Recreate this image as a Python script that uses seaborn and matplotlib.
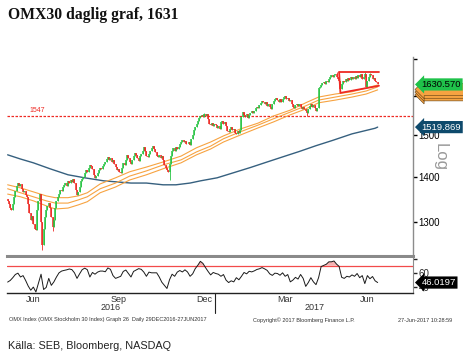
import numpy as np
import pandas as pd
import matplotlib
matplotlib.use("Agg")
import matplotlib.pyplot as plt
import matplotlib.transforms as mtransforms
from matplotlib.ticker import NullLocator, FixedLocator, FixedFormatter
import seaborn as sns

# ---------------- data ----------------
start_date = "2016-05-19"
end_date = "2017-06-27"
first_open = 1350

close_may16 = [1345, 1338, 1330, 1325, 1340, 1355, 1368, 1380, 1385]
close_jun16 = [1380, 1383, 1372, 1365, 1368, 1360, 1355, 1340, 1320, 1305, 1312,
               1295, 1285, 1282, 1325, 1345, 1362, 1300, 1252, 1285, 1310, 1325]
close_jul16 = [1335, 1342, 1330, 1310, 1290, 1305, 1330, 1345, 1355, 1362, 1370,
               1368, 1378, 1382, 1385, 1380, 1390, 1386, 1392, 1388, 1395]
close_aug16 = [1385, 1370, 1360, 1365, 1378, 1390, 1395, 1400, 1408, 1415, 1412,
               1420, 1428, 1425, 1418, 1405, 1398, 1402, 1410, 1415, 1420, 1418, 1425]
close_sep16 = [1430, 1436, 1442, 1446, 1440, 1444, 1436, 1440, 1430, 1422, 1415,
               1418, 1412, 1410, 1420, 1432, 1428, 1440, 1452, 1445, 1436, 1430]
close_oct16 = [1440, 1450, 1457, 1452, 1445, 1438, 1448, 1455, 1462, 1470, 1460,
               1450, 1446, 1455, 1462, 1468, 1474, 1466, 1458, 1450, 1447]
close_nov16 = [1452, 1445, 1448, 1440, 1428, 1420, 1415, 1411, 1430, 1450, 1462,
               1468, 1462, 1470, 1465, 1472, 1478, 1484, 1488, 1482, 1486, 1478]
close_dec16 = [1478, 1484, 1476, 1490, 1500, 1512, 1520, 1528, 1536, 1543, 1548,
               1551, 1546, 1552, 1548, 1553, 1540, 1528, 1525, 1530, 1522, 1527]
close_jan17 = [1525, 1518, 1522, 1515, 1532, 1536, 1528, 1532, 1522, 1510, 1508,
               1516, 1520, 1512, 1515, 1506, 1503, 1510, 1505, 1512, 1545, 1558]
close_feb17 = [1550, 1545, 1552, 1544, 1550, 1556, 1561, 1555, 1562, 1568, 1572,
               1568, 1576, 1582, 1587, 1584, 1578, 1585, 1574, 1580]
close_mar17 = [1570, 1566, 1578, 1586, 1592, 1595, 1590, 1584, 1592, 1585, 1593,
               1598, 1600, 1592, 1594, 1586, 1588, 1578, 1570, 1568, 1575, 1580, 1574]
close_apr17 = [1580, 1572, 1565, 1572, 1566, 1560, 1556, 1565, 1574, 1578, 1570,
               1575, 1568, 1560, 1568, 1620, 1625, 1630, 1634, 1638]
close_may17 = [1632, 1640, 1636, 1645, 1652, 1656, 1650, 1655, 1658, 1652, 1645,
               1640, 1618, 1632, 1640, 1636, 1645, 1640, 1648, 1642, 1650, 1645, 1652]
close_jun17 = [1646, 1654, 1648, 1656, 1650, 1658, 1645, 1652, 1660, 1624, 1640,
               1650, 1658, 1655, 1645, 1648, 1640, 1636, 1630.57]

low_wick_dates = ["2016-06-27", "2016-07-07", "2016-11-11", "2017-04-11", "2017-05-17"]
low_wick_values = [1241, 1280, 1393, 1548, 1608]
high_wick_dates = ["2016-12-20", "2017-05-12", "2017-06-13", "2017-06-19"]
high_wick_values = [1556, 1663, 1664, 1662]

ma200_dates = ["2016-05-19", "2016-06-02", "2016-06-16", "2016-07-05", "2016-07-25",
               "2016-08-11", "2016-09-01", "2016-09-30", "2016-10-18", "2016-11-04",
               "2016-11-18", "2016-12-05", "2016-12-15", "2017-01-03", "2017-01-19",
               "2017-02-08", "2017-02-24", "2017-03-15", "2017-04-03", "2017-04-20",
               "2017-05-09", "2017-05-30", "2017-06-23", "2017-06-27"]
ma200_values = [1452, 1442, 1433, 1419, 1405, 1398, 1391, 1386, 1386, 1382,
                1382, 1386, 1391, 1398, 1409, 1422, 1434, 1447, 1460, 1474,
                1487, 1503, 1517, 1519.869]

band_dates = ["2016-05-19", "2016-06-02", "2016-06-16", "2016-06-30", "2016-07-11",
              "2016-07-25", "2016-08-04", "2016-08-15", "2016-08-29", "2016-09-14",
              "2016-09-29", "2016-10-18", "2016-11-04", "2016-11-24", "2016-12-12",
              "2016-12-27", "2017-01-10", "2017-01-27", "2017-02-16", "2017-03-06",
              "2017-03-23", "2017-04-10", "2017-04-24", "2017-05-11", "2017-05-30",
              "2017-06-14", "2017-06-27"]
band_top = [1382, 1375, 1366, 1357, 1353, 1353, 1357, 1364, 1384, 1398, 1412, 1423, 1435,
            1449, 1469, 1483, 1498, 1515, 1530, 1548, 1563, 1582, 1597, 1605, 1611, 1621, 1629]
band_mid = [1373, 1364, 1355, 1346, 1341, 1341, 1348, 1355, 1373, 1386, 1402, 1414, 1428,
            1440, 1459, 1473, 1491, 1508, 1525, 1541, 1558, 1574, 1589, 1597, 1605, 1613, 1624]
band_bot = [1361, 1355, 1346, 1335, 1328, 1330, 1337, 1344, 1364, 1377, 1393, 1405, 1419,
            1433, 1452, 1466, 1483, 1500, 1518, 1533, 1551, 1566, 1582, 1589, 1597, 1605, 1616]

level_value = 1547
level_label = "1547"

tri_dates = ["2017-05-16", "2017-06-28", "2017-05-17", "2017-06-28"]
tri_top = 1663
tri_bottom = [1608, 1627]

# RSI, one reading every second trading day
rsi_values = [46.7, 49, 53, 57.6, 59.5, 54, 56, 49, 41, 35,
              39.5, 32.5, 45, 58, 36, 39, 52, 42, 47, 54,
              60, 62.5, 63.5, 64.3, 65.5, 64.6, 60, 52, 58.5, 64.5,
              66.7, 64.5, 54, 60.5, 58, 61, 62.5, 62.5, 61.5, 67,
              65, 56, 52, 53.5, 55, 62, 64, 59, 54, 62,
              64, 66, 65, 61, 55, 61, 60, 60, 60, 54,
              46.5, 42, 37.5, 50, 58, 55, 61, 63.3, 61.2, 64.3,
              61.2, 55, 58.5, 66, 70.8, 76.5, 73.5, 67.5, 62, 57,
              60.5, 59, 58, 55, 57.5, 49.5, 46, 48.5, 47, 53,
              50, 55, 60.5, 58.5, 62.2, 61.3, 62.8, 64.8, 65.8, 67.5,
              65.7, 63.5, 58.5, 56.3, 59.5, 59, 56.5, 60, 55, 57.5,
              47, 49.5, 53.5, 51, 57.6, 52, 40.5, 46, 53, 47,
              43, 53, 69, 70.6, 72.3, 75.8, 75.8, 77, 72.5, 69.2,
              53.5, 52, 55, 54, 57, 55, 59, 53, 56, 44.5,
              56, 51.5, 54.7, 48.5, 46.02]
rsi_level = 70

last_price = "1630.570"
last_ma200 = "1519.869"
last_rsi = "46.0197"

price_ticks = [1300, 1400, 1500, 1600, 1700]
price_labels = ["1300", "1400", "1500", "1600", ""]
rsi_ticks = [40, 60, 80]
rsi_labels = ["40", "60", ""]
month_label_dates = ["2016-06-16", "2016-09-16", "2016-12-20", "2017-03-17", "2017-06-15"]
month_labels = ["Jun", "Sep", "Dec", "Mar", "Jun"]
years = ["2016", "2017"]

title = "OMX30 daglig graf, 1631"
footer_left = "OMX Index (OMX Stockholm 30 Index) Graph 26  Daily 29DEC2016-27JUN2017"
footer_mid = "Copyright\u00a9 2017 Bloomberg Finance L.P."
footer_right = "27-Jun-2017 10:28:59"
source = "Källa: SEB, Bloomberg, NASDAQ"

# ---------------- style ----------------
sns.set_style("white")
plt.rcParams["font.family"] = ["Liberation Sans", "DejaVu Sans"]

GREEN = "#27c443"
RED = "#ee2a24"
ORANGE = "#f7a341"
NAVY = "#36607f"

def pos(d):
    return np.busday_count(start_date, np.array(d, dtype="datetime64[D]"))

close = np.array(close_may16 + close_jun16 + close_jul16 + close_aug16 + close_sep16 +
                 close_oct16 + close_nov16 + close_dec16 + close_jan17 + close_feb17 +
                 close_mar17 + close_apr17 + close_may17 + close_jun17, dtype=float)
dates = pd.bdate_range(start_date, end_date)
n = min(len(close), len(dates))
close = close[:n]
x = np.arange(n)
opens = np.concatenate([[first_open], close[:-1]])
up = close >= opens
body_lo = np.minimum(opens, close)
body_hi = np.maximum(opens, close)
lows = body_lo.copy()
highs = body_hi.copy()
for d, v in zip(low_wick_dates, low_wick_values):
    i = int(pos(d))
    if i < n:
        lows[i] = min(lows[i], v)
for d, v in zip(high_wick_dates, high_wick_values):
    i = int(pos(d))
    if i < n:
        highs[i] = max(highs[i], v)
colors = np.where(up, GREEN, RED)

W, H = 464, 357
fig = plt.figure(figsize=(W / 100, H / 100), dpi=100)
fig.patch.set_facecolor("white")

ax = fig.add_axes([7 / W, 1 - 256 / H, 406 / W, 199 / H])
ax2 = fig.add_axes([7 / W, 1 - 293 / H, 406 / W, 35.5 / H])
xlim = (-0.5, 315.5)

# main panel
ax.set_yscale("log")
ax.axhline(level_value, color=RED, lw=0.9, ls=(0, (2, 1.2)), zorder=1)
ax.text(17, level_value * 1.004, level_label, color=RED, fontsize=5, va="bottom")

sns.lineplot(x=pos(ma200_dates), y=ma200_values, ax=ax, color=NAVY, lw=1.0,
             legend=False, zorder=2)
for arr in (band_top, band_mid, band_bot):
    sns.lineplot(x=pos(band_dates), y=arr, ax=ax, color=ORANGE, lw=0.8,
                 legend=False, zorder=2)

ax.vlines(x, lows, highs, colors=colors, lw=0.6, zorder=3)
ax.vlines(x, body_lo, body_hi, colors=colors, lw=1.1, zorder=3)

tx = pos(tri_dates)
ax.plot([tx[0], tx[1]], [tri_top, tri_top], color=RED, lw=1.3, zorder=4)
ax.plot([tx[0], tx[2], tx[3]], [tri_top, tri_bottom[0], tri_bottom[1]],
        color=RED, lw=1.3, zorder=4)

ax.set_xlim(*xlim)
ax.set_ylim(1229, 1706)
ax.yaxis.tick_right()
ax.yaxis.set_major_locator(FixedLocator(price_ticks))
ax.yaxis.set_major_formatter(FixedFormatter(price_labels))
ax.yaxis.set_minor_locator(NullLocator())
ax.tick_params(axis="y", which="major", direction="out", length=3, width=1,
               labelsize=7, pad=1, colors="black")
ax.set_xticks([])
ax.set_xlabel("")
ax.set_ylabel("")
for s in ("left", "top"):
    ax.spines[s].set_visible(False)
ax.spines["right"].set_color("#8c8c8c")
ax.spines["right"].set_linewidth(1)
ax.spines["bottom"].set_color("#8a8a8a")
ax.spines["bottom"].set_linewidth(2.2)

def tag(axis, yv, txt, fc, tc, z, xoff=1.021, ec="none"):
    tr = mtransforms.blended_transform_factory(axis.transAxes, axis.transData)
    axis.text(xoff, yv, txt, transform=tr, ha="left", va="center", fontsize=6.8,
              color=tc, zorder=z, clip_on=False,
              bbox=dict(boxstyle="larrow,pad=0.17", fc=fc, ec=ec, lw=0.4))

# stacked orange marker tags for the three bands, mostly hidden under the price tag
blank = "\u2007" * 8
for k, yv in enumerate([1603, 1610, 1617]):
    tag(ax, yv, blank, ORANGE, ORANGE, 5 + k, ec="#5a3a10")
tag(ax, float(last_price), last_price, "#1fc24a", "black", 10)
tag(ax, float(last_ma200), last_ma200, "#0e4a6c", "white", 10)

# RSI panel
xr = x[::2][:len(rsi_values)]
rsi = np.array(rsi_values[:len(xr)])
ax2.axhline(rsi_level, color="#f24a4a", lw=0.9, zorder=1)
ax2.fill_between(xr, rsi_level, rsi, where=rsi > rsi_level, interpolate=True,
                 color="#f6b4b4", lw=0, zorder=1)
sns.lineplot(x=xr, y=rsi, ax=ax2, color="#1a1a1a", lw=0.7, legend=False, zorder=2)
ax2.set_xlim(*xlim)
ax2.set_ylim(31, 82)
ax2.yaxis.tick_right()
ax2.yaxis.set_major_locator(FixedLocator(rsi_ticks))
ax2.yaxis.set_major_formatter(FixedFormatter(rsi_labels))
ax2.tick_params(axis="y", direction="out", length=3, width=1, labelsize=7, pad=1)
tag(ax2, float(last_rsi), last_rsi, "black", "white", 10)

month_starts = pd.date_range("2016-06-01", "2017-08-01", freq="MS")
ax2.xaxis.set_major_locator(FixedLocator(pos(month_starts.strftime("%Y-%m-%d").tolist()) - 0.5))
ax2.xaxis.set_major_formatter(FixedFormatter([""] * len(month_starts)))
ax2.xaxis.set_minor_locator(FixedLocator(pos(month_label_dates)))
ax2.xaxis.set_minor_formatter(FixedFormatter(month_labels))
ax2.tick_params(axis="x", which="major", direction="out", length=3, width=0.8, colors="black")
ax2.tick_params(axis="x", which="minor", length=0, labelsize=6.5, pad=1.2, labelcolor="#333333")
ax2.set_xlabel("")
ax2.set_ylabel("")
for s in ("left", "top"):
    ax2.spines[s].set_visible(False)
ax2.spines["right"].set_color("#8c8c8c")
ax2.spines["bottom"].set_color("#222222")
ax2.spines["bottom"].set_linewidth(1)

yb = pos("2017-01-01") - 0.5
trb = mtransforms.blended_transform_factory(ax2.transData, ax2.transAxes)
ax2.plot([yb, yb], [0, -0.57], transform=trb, color="#222222", lw=0.8, clip_on=False)
ax2.text((xlim[0] + yb) / 2, -0.42, years[0], transform=trb, ha="center", va="center",
         fontsize=6.5, color="#333333")
ax2.text((yb + xlim[1]) / 2, -0.42, years[1], transform=trb, ha="center", va="center",
         fontsize=6.5, color="#333333")

# texts
fig.text(8 / W, 1 - 15 / H, title, fontsize=11.3, fontweight="bold",
         family=["Liberation Serif", "DejaVu Serif"], color="#111111", va="center")
fig.text(440 / W, 1 - 157 / H, "Log", rotation=270, fontsize=12, color="#9a9a9a",
         ha="center", va="center")
fig.text(9 / W, 1 - 320 / H, footer_left, fontsize=4, color="#333333", va="center")
fig.text(304 / W, 1 - 320 / H, footer_mid, fontsize=4, color="#333333", va="center", ha="center")
fig.text(452 / W, 1 - 320 / H, footer_right, fontsize=4, color="#333333", va="center", ha="right")
fig.text(8 / W, 1 - 346 / H, source, fontsize=7.8, color="#222222", va="center")

fig.savefig("out.png", dpi=100, facecolor="white")
